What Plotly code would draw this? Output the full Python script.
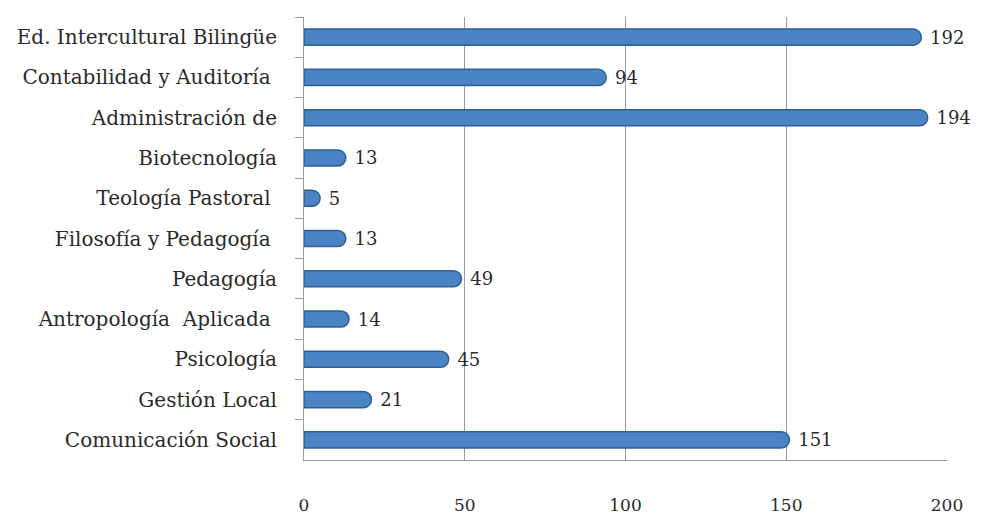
import plotly.graph_objects as go

categories = ["Ed. Intercultural Bilingüe", "Contabilidad y Auditoría ", "Administración de",
              "Biotecnología", "Teología Pastoral ", "Filosofía y Pedagogía ", "Pedagogía",
              "Antropología  Aplicada ", "Psicología", "Gestión Local", "Comunicación Social"]
values = [192, 94, 194, 13, 5, 13, 49, 14, 45, 21, 151]
x_ticks = [0, 50, 100, 150, 200]

font_family = "DejaVu Serif"
text_color = "#2a2a2a"

fig = go.Figure(go.Bar(
    x=values, y=categories, orientation="h",
    marker=dict(color="#4a84c4", line=dict(color="#2f5f94", width=1.5)),
    width=0.4,
    texttemplate=" %{x}", textposition="outside",
    constraintext="none",
    textfont=dict(family=font_family, size=18, color=text_color),
    cliponaxis=False,
))

fig.update_layout(
    width=990, height=516,
    margin=dict(l=295, r=51, t=9, b=62),
    paper_bgcolor="white", plot_bgcolor="white",
    barcornerradius="50%",
    showlegend=False,
    font=dict(family=font_family, color=text_color),
)
fig.update_xaxes(
    range=[0, 200], tickvals=x_ticks, ticktext=[str(t) for t in x_ticks],
    showgrid=True, gridcolor="#9a9a9a", gridwidth=1,
    showline=True, linecolor="#9a9a9a", linewidth=1,
    zeroline=False, ticklabelstandoff=30,
    tickfont=dict(family=font_family, size=17, color=text_color),
)
fig.update_yaxes(
    autorange="reversed", showline=True, linecolor="#9a9a9a", linewidth=1,
    ticks="outside", tickson="boundaries", ticklen=8, tickcolor="#9a9a9a",
    ticklabelstandoff=22,
    tickfont=dict(family=font_family, size=20, color=text_color),
)

fig.write_html("out.html")
